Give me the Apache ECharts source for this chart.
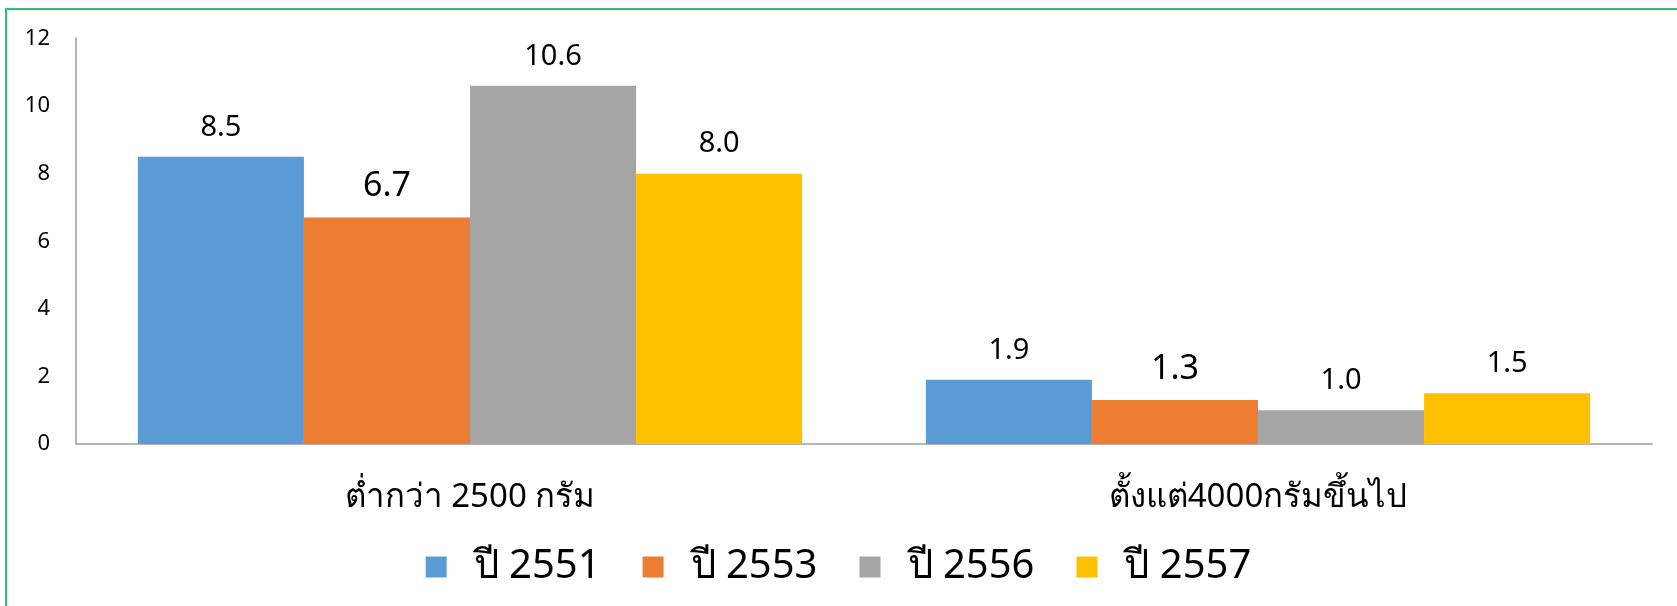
<!DOCTYPE html>
<html>
<head>
<meta charset="utf-8">
<script src="https://cdn.jsdelivr.net/npm/echarts@6/dist/echarts.min.js"></script>
<style>
  html, body { margin: 0; padding: 0; background: #fff; }
  #wrap { position: relative; width: 1677px; height: 606px; }
  #frame { position: absolute; left: 5px; top: 8px; right: 0; bottom: 0;
           border-top: 2px solid #2ec36b; border-left: 2px solid #2ec36b; }
  #chart { position: absolute; left: 0; top: 0; width: 1677px; height: 606px; }
</style>
</head>
<body>
<div id="wrap">
  <div id="frame"></div>
  <div id="chart"></div>
</div>
<script>
// ข้อมูล
const categories = ['ต่ำกว่า 2500 กรัม', 'ตั้งแต่4000กรัมขึ้นไป']
const seriesNames = ['ปี 2551', 'ปี 2553', 'ปี 2556', 'ปี 2557']
const values2551 = [8.5, 1.9]
const values2553 = [6.7, 1.3]
const values2556 = [10.6, 1.0]
const values2557 = [8.0, 1.5]
const yTicks = [0, 2, 4, 6, 8, 10, 12]

const colors = ['#5b9bd5', '#ed7d31', '#a5a5a5', '#ffc000']
const fontFamily = '"Noto Sans", "Open Sans", sans-serif'

const myChart = echarts.init(document.getElementById('chart'))

const makeSeries = (name, data, i) => ({
  name,
  type: 'bar',
  data,
  barGap: '0%',
  barCategoryGap: '15.7%',
  itemStyle: { color: colors[i] },
  label: {
    show: true,
    position: 'top',
    distance: i === 1 ? 14 : 15,
    color: '#000',
    fontFamily,
    fontSize: i === 1 ? 34 : 29,
    formatter: (p) => p.value.toFixed(1)
  }
})

const option = {
  animation: false,
  textStyle: { fontFamily },
  grid: { left: 76, right: 25, top: 38.5, bottom: 162 },
  legend: {
    data: seriesNames,
    top: 542,
    left: 'center',
    itemWidth: 21,
    itemHeight: 21,
    itemGap: 42,
    icon: 'rect',
    textStyle: { fontSize: 40, color: '#000', fontFamily, padding: [0, 0, 0, 22] }
  },
  xAxis: {
    type: 'category',
    data: categories,
    axisLine: { lineStyle: { color: '#b4b4b4', width: 2 } },
    axisTick: { show: false },
    axisLabel: { color: '#000', fontSize: 33, margin: 37, fontFamily }
  },
  yAxis: {
    type: 'value',
    min: yTicks[0],
    max: yTicks[yTicks.length - 1],
    interval: 2,
    splitLine: { show: false },
    axisLine: { show: true, lineStyle: { color: '#b4b4b4', width: 2 } },
    axisTick: { show: false },
    axisLabel: { color: '#000', fontSize: 22, margin: 26, fontFamily }
  },
  series: [
    makeSeries(seriesNames[0], values2551, 0),
    makeSeries(seriesNames[1], values2553, 1),
    makeSeries(seriesNames[2], values2556, 2),
    makeSeries(seriesNames[3], values2557, 3)
  ]
}
myChart.setOption(option)
</script>
</body>
</html>
